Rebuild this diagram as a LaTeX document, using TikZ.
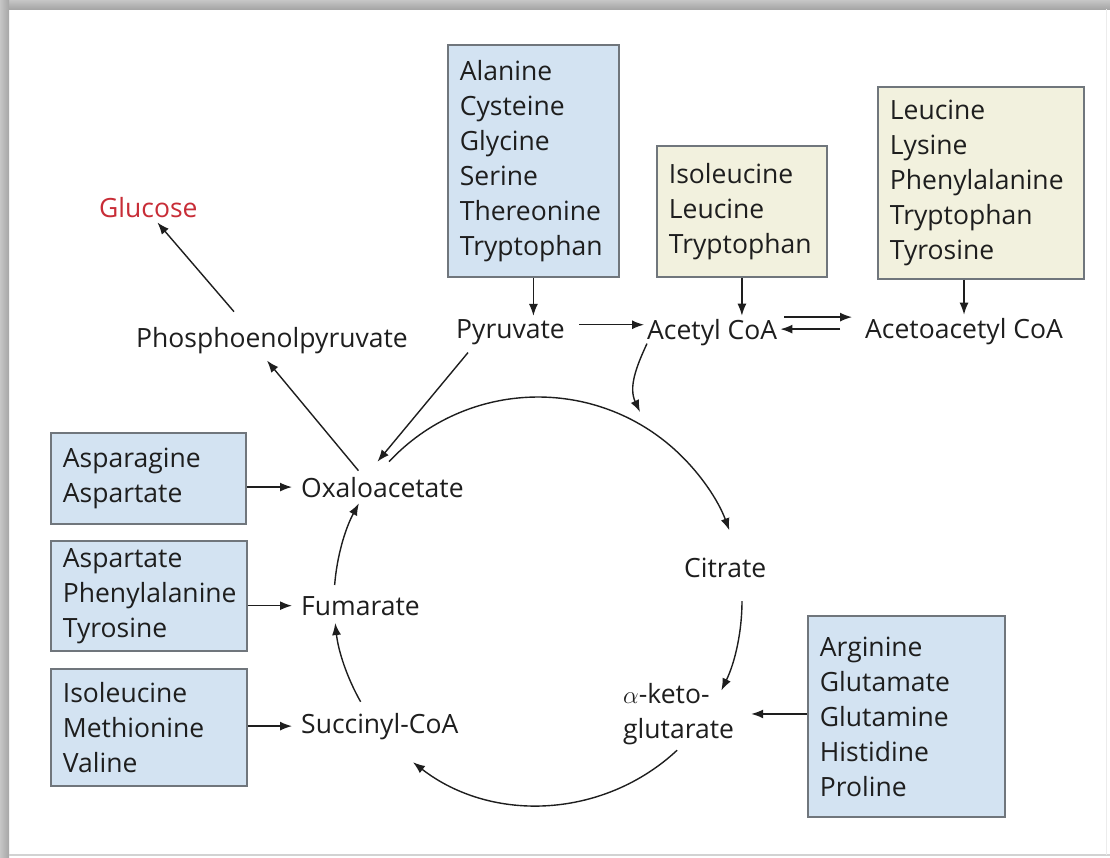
\documentclass[tikz,border=0pt]{standalone}
\usepackage{fontspec}
\setmainfont{Open Sans}
\usepackage{xcolor}
\usepackage{tikz}
\usetikzlibrary{arrows.meta, positioning, calc}
\definecolor{boxblue}{RGB}{211, 227, 242}
\definecolor{boxyellow}{RGB}{242, 241, 222}
\definecolor{boxline}{RGB}{112, 118, 124}
\definecolor{inkgray}{RGB}{30, 30, 30}
\definecolor{glcred}{RGB}{200, 45, 55}

\begin{document}
\begin{tikzpicture}[x=1pt, y=1pt, >={Latex[length=12pt, width=9pt]},
    every node/.style={font=\fontsize{26.5}{35}\selectfont, text=inkgray},
    metab/.style={inner sep=3pt, anchor=base west},
    srcbox/.style={draw=boxline, line width=1.8pt, align=left, anchor=north west, inner xsep=12pt, inner ysep=0pt},
    bluebox/.style={srcbox, fill=boxblue},
    yellowbox/.style={srcbox, fill=boxyellow},
    flow/.style={->, line width=1.4pt, draw=inkgray}]
    \useasboundingbox (0,0) rectangle (1110,-857);
    \fill[white] (0,0) rectangle (1110,-857);
    \shade[top color=gray!45, bottom color=gray!70] (0,0) rectangle (1110,-9);
    \shade[left color=gray!45, right color=gray!70] (0,0) rectangle (9,-857);
    \draw[gray!35, line width=1.5pt] (9,-855) -- (1110,-855);
    \draw[gray!15, line width=1pt] (1106,-9) -- (1106,-855);

    \node[metab, text=glcred] (glc) at (96,-217) {Glucose};
    \node[metab] (pep) at (133,-347) {Phosphoenolpyruvate};
    \node[metab] (pyr) at (453,-338) {Pyruvate};
    \node[metab] (acoa) at (644,-339) {Acetyl CoA};
    \node[metab] (aacoa) at (862,-338) {Acetoacetyl CoA};
    \node[metab] (oaa) at (298,-497) {Oxaloacetate};
    \node[metab] (fum) at (298,-615) {Fumarate};
    \node[metab] (succ) at (298,-733) {Succinyl-CoA};
    \node[metab] (cit) at (681,-577) {Citrate};
    \node[inner sep=3pt, anchor=north west, align=left] (akg) at (620,-680) {$\alpha$-keto-\\glutarate};

    \node[bluebox, text width=147pt, minimum height=232pt] (pyrsrc) at (447,-44) {Alanine\\Cysteine\\Glycine\\Serine\\Thereonine\\Tryptophan};
    \node[yellowbox, text width=146pt, minimum height=131pt] (acoasrc) at (656,-145) {Isoleucine\\Leucine\\Tryptophan};
    \node[yellowbox, text width=182pt, minimum height=192pt] (aacoasrc) at (877,-86) {Leucine\\Lysine\\Phenylalanine\\Tryptophan\\Tyrosine};
    \node[bluebox, text width=171pt, minimum height=91pt] (oaasrc) at (50,-432) {Asparagine\\Aspartate};
    \node[bluebox, text width=172pt, minimum height=110pt] (fumsrc) at (50,-540) {Aspartate\\Phenylalanine\\Tyrosine};
    \node[bluebox, text width=172pt, minimum height=117pt] (succsrc) at (50,-668) {Isoleucine\\Methionine\\Valine};
    \node[bluebox, text width=173pt, minimum height=201pt] (akgsrc) at (807,-615) {Arginine\\Glutamate\\Glutamine\\Histidine\\Proline};

    \draw[flow] (pyrsrc.south) -- (pyrsrc.south |- pyr.north);
    \draw[flow] (acoasrc.south) -- (acoasrc.south |- acoa.north);
    \draw[flow] (aacoa.north |- aacoasrc.south) -- (aacoa.north);
    \draw[flow, shorten <=11pt] ([yshift=7pt]pyr.east) -- ([yshift=7pt]pyr.east -| acoa.west);
    \draw[flow, shorten <=4pt, shorten >=10pt] ([yshift=15pt]acoa.east) -- ([yshift=15pt]acoa.east -| aacoa.west);
    \draw[flow, shorten <=22pt] ([yshift=2pt]aacoa.west) -- ([yshift=2pt]aacoa.west -| acoa.east);

    \draw[flow, shorten >=6pt] (oaasrc.east |- oaa.west) -- (oaa.west);
    \draw[flow, shorten >=6pt] (fumsrc.east |- fum.west) -- (fum.west);
    \draw[flow, shorten >=6pt] (succsrc.east |- succ.west) -- (succ.west);
    \draw[flow, shorten >=14pt] (akgsrc.west |- akg.east) -- (akg.east);

    \draw[flow] ([xshift=15pt, yshift=-5pt]pyr.south west) -- ([xshift=-5pt, yshift=12pt]oaa.north);
    \draw[flow] ([xshift=-24pt, yshift=3pt]oaa.north) -- ([xshift=-5pt, yshift=-4pt]pep.south);
    \draw[flow] ([xshift=-38pt, yshift=12pt]pep.north) -- ([xshift=9pt, yshift=-2pt]glc.south);

    \coordinate (krebsin) at (640,-412);
    \draw[flow] ([xshift=3pt, yshift=5pt]acoa.south west) to[out=-115, in=115] (krebsin);

    \coordinate (krebs) at (538,-601);
    \draw[flow] ([shift={(136.9:204)}]krebs) arc[start angle=136.9, end angle=20.3, radius=204pt];
    \draw[flow] ([shift={(0:204)}]krebs) arc[start angle=0, end angle=-26, radius=204pt];
    \draw[flow] ([shift={(-47:204)}]krebs) arc[start angle=-47, end angle=-127.8, radius=204pt];
    \draw[flow] ([shift={(209.6:204)}]krebs) arc[start angle=209.6, end angle=186.2, radius=204pt];
    \draw[flow] ([shift={(175.5:204)}]krebs) arc[start angle=175.5, end angle=151.4, radius=204pt];
\end{tikzpicture}
\end{document}
